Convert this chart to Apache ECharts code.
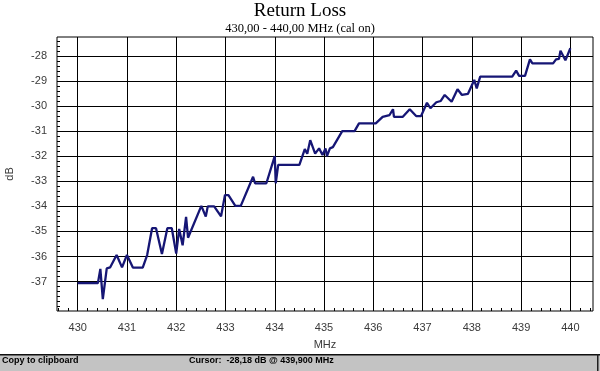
<!DOCTYPE html>
<html><head><meta charset="utf-8">
<script src="https://cdn.jsdelivr.net/npm/echarts@6/dist/echarts.min.js"></script>
<style>html,body{margin:0;padding:0;background:#fff}#c{width:600px;height:371px}</style>
</head><body><div id="c"></div>
<script>
// ---- data ----
const freqMHz = [430.00,430.41,430.46,430.51,430.59,430.66,430.79,430.90,431.00,431.12,431.32,431.41,431.51,431.59,431.71,431.82,431.91,432.00,432.06,432.13,432.20,432.24,432.51,432.60,432.64,432.77,432.91,432.99,433.06,433.20,433.31,433.56,433.60,433.83,434.00,434.02,434.07,434.50,434.61,434.66,434.72,434.82,434.90,434.97,435.03,435.06,435.12,435.18,435.37,435.62,435.71,436.05,436.19,436.33,436.40,436.42,436.60,436.74,436.87,436.97,437.09,437.16,437.28,437.37,437.45,437.59,437.71,437.80,437.92,438.05,438.10,438.17,438.82,438.90,438.96,439.08,439.18,439.23,439.65,439.71,439.77,439.80,439.90,440.00];
const lossDb  = [-37.06,-37.06,-36.49,-37.70,-36.47,-36.43,-35.94,-36.43,-35.94,-36.44,-36.44,-35.94,-34.87,-34.87,-35.90,-34.87,-34.87,-35.88,-34.90,-35.55,-34.42,-35.25,-33.98,-34.41,-34.00,-34.00,-34.40,-33.55,-33.55,-33.98,-33.98,-32.82,-33.08,-33.08,-32.00,-33.08,-32.35,-32.35,-31.72,-31.90,-31.36,-31.90,-31.69,-31.95,-31.69,-32.00,-31.69,-31.64,-31.00,-31.00,-30.69,-30.69,-30.43,-30.36,-30.13,-30.43,-30.43,-30.13,-30.40,-30.40,-29.87,-30.09,-29.85,-29.80,-29.56,-29.83,-29.33,-29.56,-29.52,-28.96,-29.30,-28.83,-28.83,-28.59,-28.80,-28.80,-28.14,-28.30,-28.30,-28.14,-28.12,-27.80,-28.18,-27.70];
const xTickLabels = [430,431,432,433,434,435,436,437,438,439,440];
const yTickLabels = [-37,-36,-35,-34,-33,-32,-31,-30,-29,-28];
const titleText = 'Return Loss';
const subtitleText = '430,00 - 440,00 MHz (cal on)';
const statusLeft = 'Copy to clipboard';
const statusCursor = 'Cursor:  -28,18 dB @ 439,900 MHz';

// ---- axis extents (frame) ----
const X_MIN = 429.58, X_MAX = 440.46;
const Y_MIN = -38.17, Y_MAX = -27.25;
const xMinor = [], yMinor = [];
for (let i = 2148; i <= 2202; i++) xMinor.push(+(i * 0.2).toFixed(1));
for (let i = -190; i <= -137; i++) yMinor.push(+(i * 0.2).toFixed(1));

const chart = echarts.init(document.getElementById('c'), null, {renderer: 'canvas'});
const labelFont = {fontFamily: 'Liberation Sans, Arial, sans-serif', fontSize: 11, color: '#3a3a3a'};

chart.setOption({
  backgroundColor: '#ffffff',
  animation: false,
  title: [
    {text: titleText, left: 'center', top: 2, padding: 0, textStyle: {fontFamily: 'Liberation Serif, Times New Roman, serif', fontSize: 19, fontWeight: 'normal', color: '#000'}},
    {text: subtitleText, left: 'center', top: 22.5, padding: 0, textStyle: {fontFamily: 'Liberation Serif, Times New Roman, serif', fontSize: 12.5, fontWeight: 'normal', color: '#000'}}
  ],
  grid: {left: 57, right: 7, top: 37, bottom: 60, outerBoundsMode: 'none', containLabel: false, show: true, borderColor: '#000', borderWidth: 1, backgroundColor: '#fff'},
  xAxis: {
    type: 'value', min: X_MIN, max: X_MAX,
    axisLine: {show: false}, splitLine: {show: false},
    axisTick: {show: true, inside: true, length: 3, customValues: xMinor, lineStyle: {color: '#000'}},
    axisLabel: Object.assign({customValues: xTickLabels, margin: 11}, labelFont),
    name: 'MHz', nameLocation: 'middle', nameGap: 28, nameTextStyle: labelFont
  },
  yAxis: {
    type: 'value', min: Y_MIN, max: Y_MAX,
    axisLine: {show: false}, splitLine: {show: false},
    axisTick: {show: true, inside: true, length: 3, customValues: yMinor, lineStyle: {color: '#000'}},
    axisLabel: Object.assign({customValues: yTickLabels, margin: 10}, labelFont),
    name: 'dB', nameLocation: 'middle', nameRotate: 90, nameGap: 42, nameTextStyle: labelFont
  },
  series: [
    {
      type: 'line', data: [], z: 1, silent: true,
      markLine: {
        silent: true, symbol: ['none', 'none'], label: {show: false}, animation: false,
        lineStyle: {color: '#000', width: 1, type: 'solid'},
        data: xTickLabels.map(v => ({xAxis: v})).concat(yTickLabels.map(v => ({yAxis: v})))
      }
    },
    {
      type: 'line', z: 5, symbol: 'none', smooth: false,
      lineStyle: {color: '#161675', width: 2.3},
      data: freqMHz.map((f, i) => [f, lossDb[i]])
    }
  ],
  graphic: [
    {type: 'rect', left: 0, top: 354, shape: {width: 600, height: 17}, style: {fill: '#c3c3c3'}, z: 10},
    {type: 'rect', left: 0, top: 354, shape: {width: 600, height: 1.5}, style: {fill: '#101010'}, z: 11},
    {type: 'rect', left: 597, top: 354, shape: {width: 1.5, height: 17}, style: {fill: '#202020'}, z: 11},
    {type: 'text', left: 2, top: 356, style: {text: statusLeft, font: 'bold 9px Liberation Sans, Arial, sans-serif', fill: '#000'}, z: 12},
    {type: 'text', left: 189, top: 356, style: {text: statusCursor, font: 'bold 9px Liberation Sans, Arial, sans-serif', fill: '#000'}, z: 12}
  ]
});
</script>
</body></html>
